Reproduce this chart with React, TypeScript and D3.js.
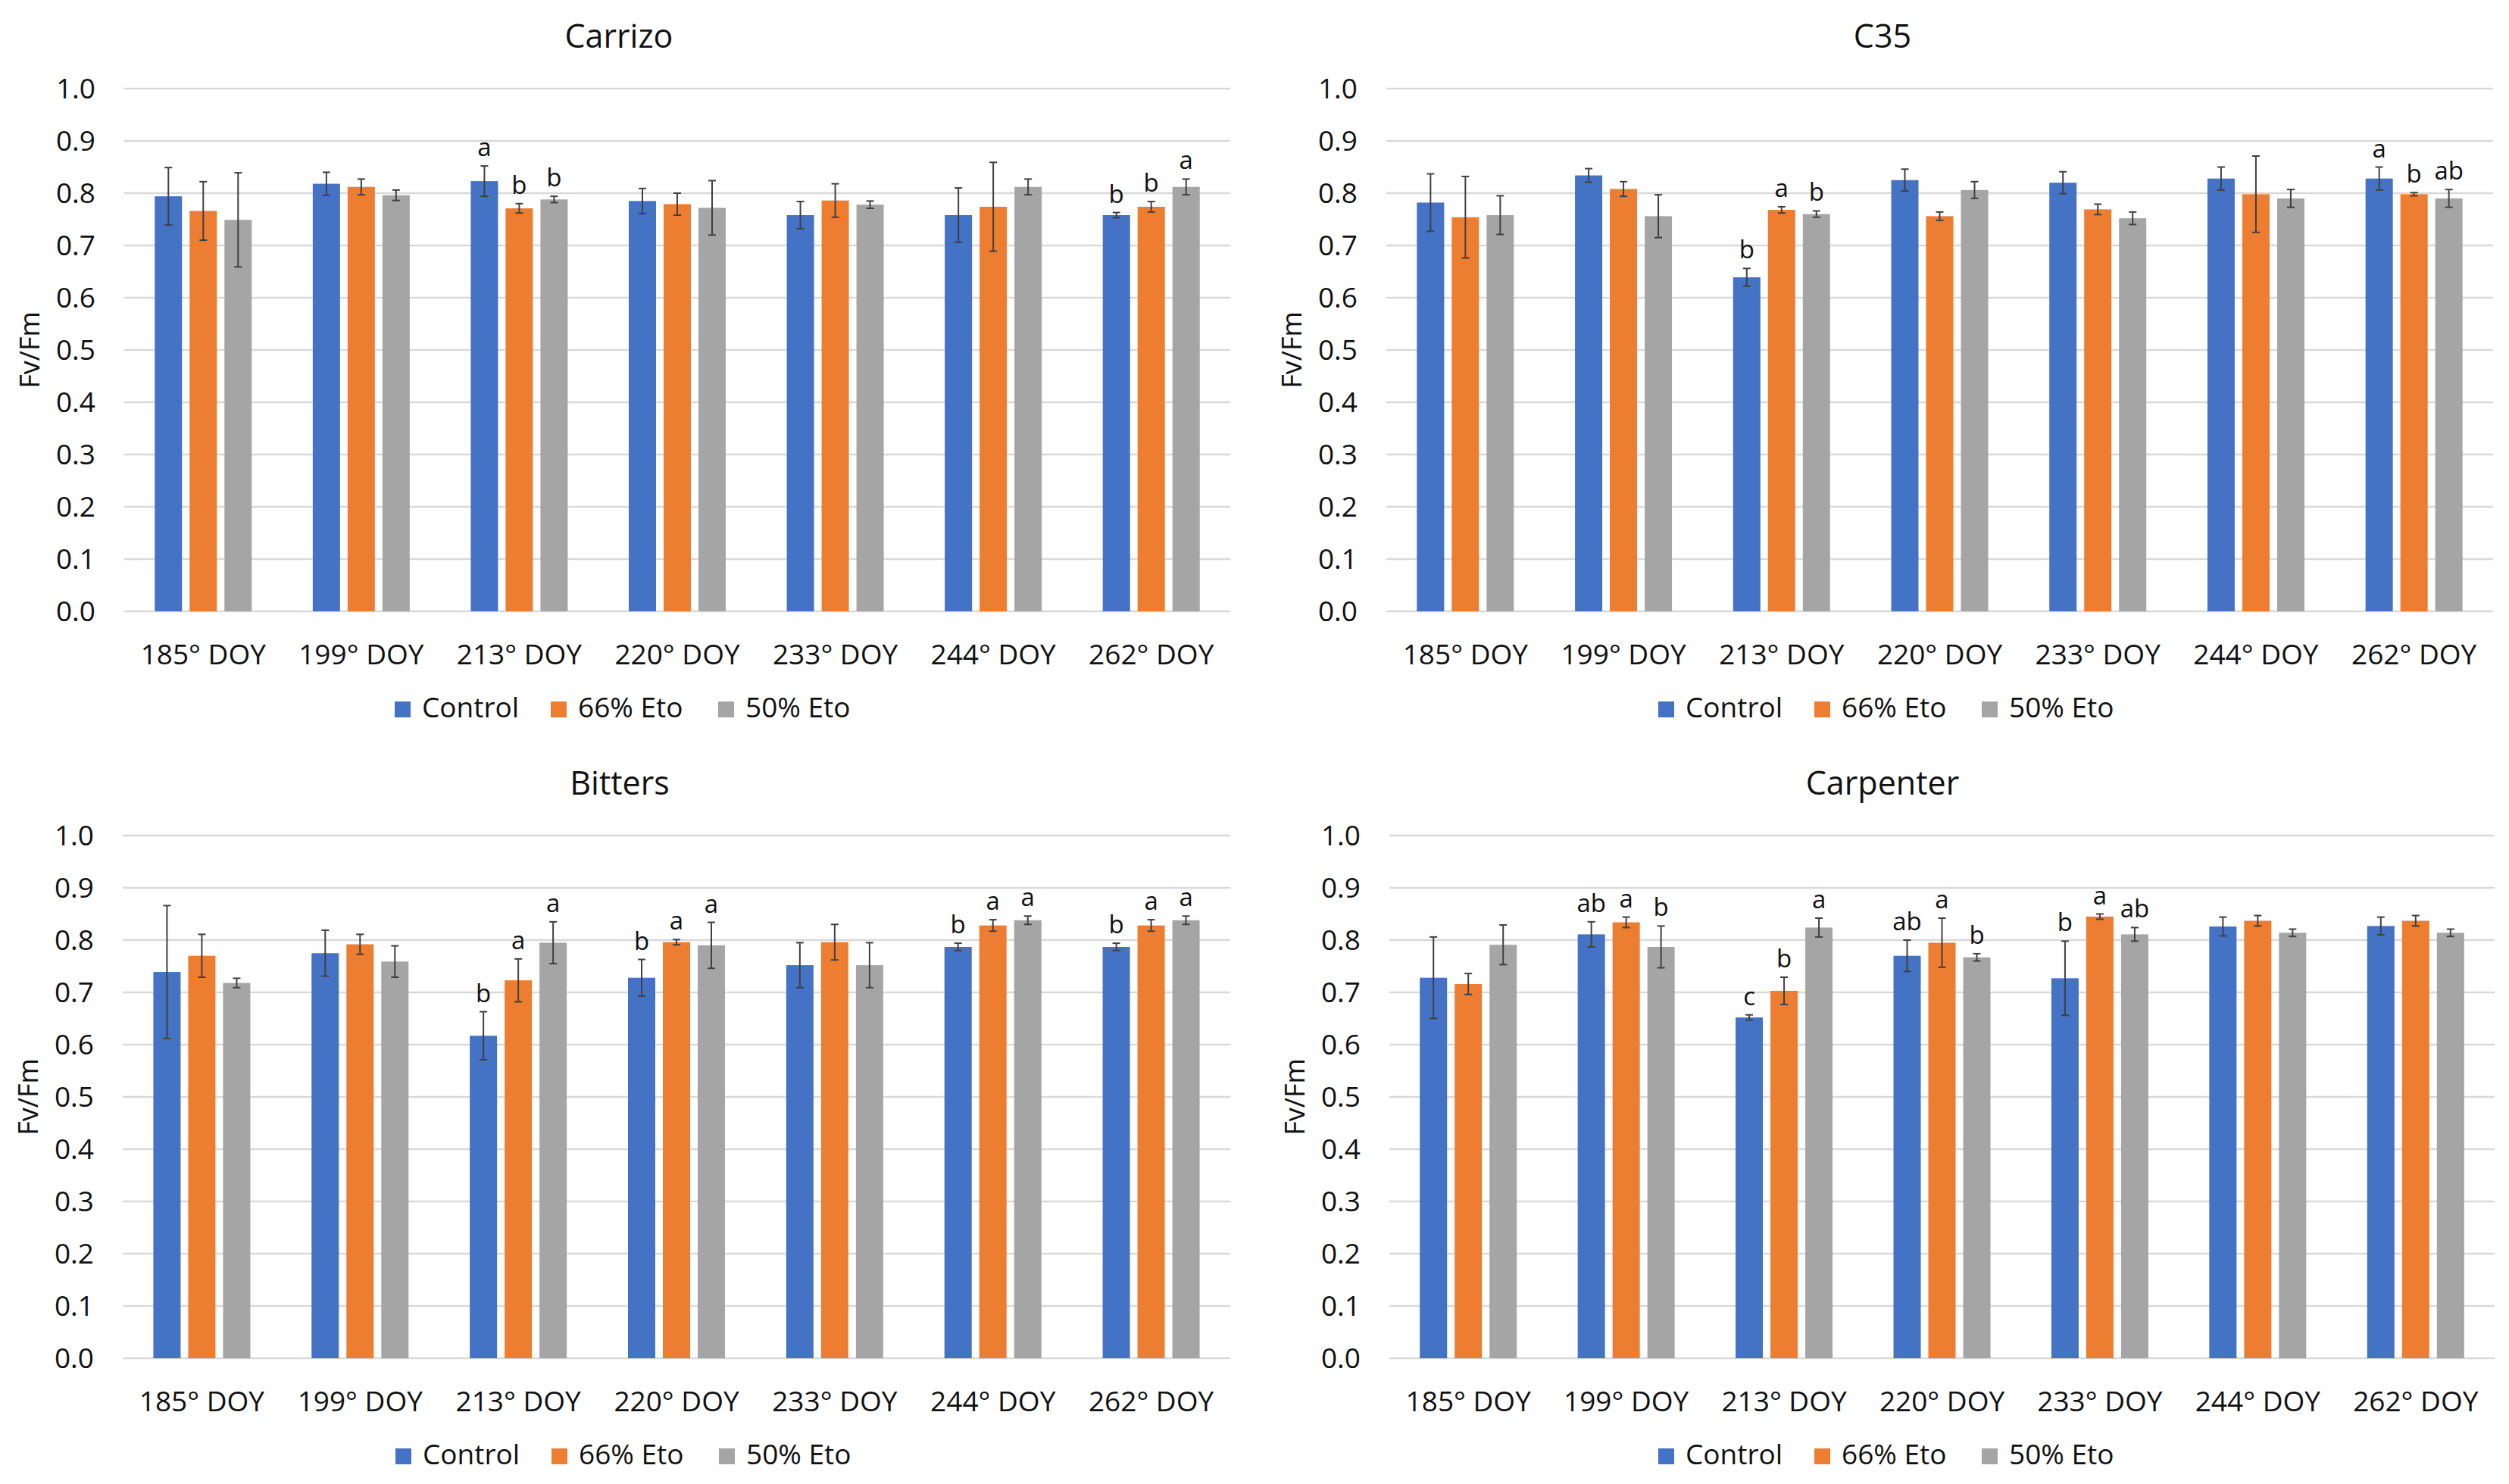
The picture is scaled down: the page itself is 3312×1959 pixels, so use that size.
import React from "react";
import * as d3 from "d3";

const categories = ["185° DOY", "199° DOY", "213° DOY", "220° DOY", "233° DOY", "244° DOY", "262° DOY"];
const seriesNames = ["Control", "66% Eto", "50% Eto"];
const yTicks = [0, 0.1, 0.2, 0.3, 0.4, 0.5, 0.6, 0.7, 0.8, 0.9, 1.0];

// Carrizo
const carrizoMeans = [
  [0.794, 0.818, 0.823, 0.785, 0.758, 0.758, 0.758],
  [0.766, 0.812, 0.771, 0.779, 0.786, 0.774, 0.774],
  [0.749, 0.796, 0.788, 0.772, 0.778, 0.812, 0.812],
];
const carrizoErrors = [
  [0.055, 0.022, 0.029, 0.024, 0.026, 0.052, 0.005],
  [0.056, 0.015, 0.009, 0.021, 0.032, 0.085, 0.01],
  [0.09, 0.01, 0.006, 0.052, 0.007, 0.015, 0.015],
];
const carrizoLetters = [
  ["", "", "a", "", "", "", "b"],
  ["", "", "b", "", "", "", "b"],
  ["", "", "b", "", "", "", "a"],
];

// C35
const c35Means = [
  [0.782, 0.834, 0.639, 0.825, 0.82, 0.828, 0.828],
  [0.754, 0.808, 0.768, 0.756, 0.769, 0.798, 0.798],
  [0.758, 0.756, 0.76, 0.806, 0.752, 0.79, 0.79],
];
const c35Errors = [
  [0.055, 0.013, 0.017, 0.021, 0.021, 0.022, 0.022],
  [0.078, 0.014, 0.006, 0.008, 0.01, 0.073, 0.003],
  [0.037, 0.041, 0.006, 0.016, 0.012, 0.017, 0.017],
];
const c35Letters = [
  ["", "", "b", "", "", "", "a"],
  ["", "", "a", "", "", "", "b"],
  ["", "", "b", "", "", "", "ab"],
];

// Bitters
const bittersMeans = [
  [0.739, 0.775, 0.617, 0.728, 0.752, 0.787, 0.787],
  [0.77, 0.792, 0.723, 0.796, 0.796, 0.828, 0.828],
  [0.718, 0.759, 0.795, 0.79, 0.752, 0.838, 0.838],
];
const bittersErrors = [
  [0.127, 0.044, 0.046, 0.035, 0.043, 0.007, 0.007],
  [0.041, 0.019, 0.041, 0.005, 0.034, 0.011, 0.011],
  [0.009, 0.03, 0.04, 0.044, 0.043, 0.008, 0.008],
];
const bittersLetters = [
  ["", "", "b", "b", "", "b", "b"],
  ["", "", "a", "a", "", "a", "a"],
  ["", "", "a", "a", "", "a", "a"],
];

// Carpenter
const carpenterMeans = [
  [0.728, 0.811, 0.652, 0.77, 0.727, 0.826, 0.827],
  [0.716, 0.834, 0.703, 0.795, 0.845, 0.837, 0.837],
  [0.791, 0.787, 0.824, 0.767, 0.811, 0.814, 0.814],
];
const carpenterErrors = [
  [0.078, 0.024, 0.005, 0.03, 0.071, 0.018, 0.017],
  [0.02, 0.01, 0.026, 0.047, 0.005, 0.01, 0.01],
  [0.038, 0.04, 0.018, 0.007, 0.013, 0.007, 0.007],
];
const carpenterLetters = [
  ["", "ab", "c", "ab", "b", "", ""],
  ["", "a", "b", "a", "a", "", ""],
  ["", "b", "a", "b", "ab", "", ""],
];

const COLORS = ["#4472C4", "#ED7D31", "#A5A5A5"];
const FONT = "'Open Sans', 'Noto Sans', sans-serif";
const W = 3312;
const H = 1959;

interface PanelProps {
  title: string;
  means: number[][];
  errors: number[][];
  letters: string[][];
  plotL: number;
  plotR: number;
  dy: number;
  cx: number;
}

function Panel({ title, means, errors, letters, plotL, plotR, dy, cx }: PanelProps) {
  const top = 117 + dy;
  const bottom = 807 + dy;
  const y = d3.scaleLinear().domain([0, 1]).range([bottom, top]);
  const x = d3.scaleBand<string>().domain(categories).range([plotL, plotR]);
  const barW = 36;
  const gap = 10;
  const groupW = barW * 3 + gap * 2;
  const inner = d3
    .scaleBand<string>()
    .domain(seriesNames)
    .range([-groupW / 2, groupW / 2])
    .paddingInner(gap / (barW + gap));
  const legendOffsets = [0, 206, 427];
  const legendStart = cx + 6 - 302;

  return (
    <g>
      <text x={cx} y={63 + dy} textAnchor="middle" fontSize={43} fill="#111">
        {title}
      </text>
      {yTicks.map((t) => (
        <g key={t}>
          <line x1={plotL} x2={plotR} y1={y(t)} y2={y(t)} stroke="#d9d9d9" strokeWidth={2.5} />
          <text x={plotL - 38} y={y(t) + 13} textAnchor="end" fontSize={37} fill="#111">
            {t.toFixed(1)}
          </text>
        </g>
      ))}
      <text
        transform={`translate(${plotL - 112},${(top + bottom) / 2}) rotate(-90)`}
        textAnchor="middle"
        fontSize={36}
        fill="#111"
      >
        Fv/Fm
      </text>
      {categories.map((c, ci) => {
        const center = (x(c) ?? 0) + x.bandwidth() / 2;
        return (
          <g key={c}>
            {seriesNames.map((s, si) => {
              const m = means[si][ci];
              const e = errors[si][ci];
              const bx = center + (inner(s) ?? 0);
              const mx = bx + inner.bandwidth() / 2;
              const letter = letters[si][ci];
              return (
                <g key={s}>
                  <rect x={bx} y={y(m)} width={inner.bandwidth()} height={bottom - y(m)} fill={COLORS[si]} />
                  <line x1={mx} x2={mx} y1={y(m + e)} y2={y(m - e)} stroke="#404040" strokeWidth={2} />
                  <line x1={mx - 5} x2={mx + 5} y1={y(m + e)} y2={y(m + e)} stroke="#404040" strokeWidth={2} />
                  <line x1={mx - 5} x2={mx + 5} y1={y(m - e)} y2={y(m - e)} stroke="#404040" strokeWidth={2} />
                  {letter && (
                    <text x={mx} y={y(m + e) - 13} textAnchor="middle" fontSize={33} fill="#111">
                      {letter}
                    </text>
                  )}
                </g>
              );
            })}
            <text x={center} y={877 + dy} textAnchor="middle" fontSize={37} fill="#111">
              {c}
            </text>
          </g>
        );
      })}
      {seriesNames.map((s, si) => (
        <g key={s} transform={`translate(${legendStart + legendOffsets[si]},${dy})`}>
          <rect x={0} y={926} width={21} height={21} fill={COLORS[si]} />
          <text x={36} y={947} fontSize={37} fill="#111">
            {s}
          </text>
        </g>
      ))}
    </g>
  );
}

export default function App() {
  return (
    <div>
      <style>{"body{margin:0;background:#fff}"}</style>
      <svg width={W} height={H} viewBox={`0 0 ${W} ${H}`} fontFamily={FONT} style={{ display: "block" }}>
        <rect width={W} height={H} fill="#fff" />
        <Panel title="Carrizo" means={carrizoMeans} errors={carrizoErrors} letters={carrizoLetters} plotL={164} plotR={1624} dy={0} cx={817} />
        <Panel title="C35" means={c35Means} errors={c35Errors} letters={c35Letters} plotL={1830} plotR={3291} dy={0} cx={2485} />
        <Panel title="Bitters" means={bittersMeans} errors={bittersErrors} letters={bittersLetters} plotL={162} plotR={1624} dy={986} cx={818} />
        <Panel title="Carpenter" means={carpenterMeans} errors={carpenterErrors} letters={carpenterLetters} plotL={1834} plotR={3293} dy={986} cx={2485} />
      </svg>
    </div>
  );
}
